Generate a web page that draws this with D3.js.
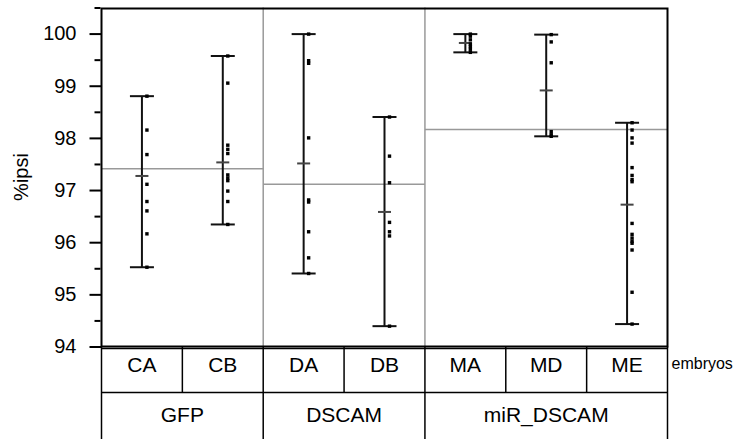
<!DOCTYPE html>
<meta charset="utf-8">
<title>%ipsi per embryo</title>
<style>
body { margin: 0; background: #fff; }
svg { display: block; font-family: "Liberation Sans", Arial, sans-serif; }
.axis path { display: none; }
.axis line { stroke: #000; stroke-width: 2; }
.axis text { font-size: 20px; fill: #000; }
.frame { fill: none; stroke: #000; stroke-width: 2; }
.sep { stroke: #999; stroke-width: 1.5; }
.gmean { stroke: #999; stroke-width: 1.5; }
.bar { stroke: #111; stroke-width: 2; }
.mtick { stroke: #444; stroke-width: 2; }
.tbl { stroke: #000; stroke-width: 1.5; }
</style>
<body>
<script src="https://d3js.org/d3.v7.min.js"></script>
<script>

// data
var groups = ["GFP", "DSCAM", "miR_DSCAM"];
var embryos = ["CA", "CB", "DA", "DB", "MA", "MD", "ME"];
var embryoGroup = ["GFP", "GFP", "DSCAM", "DSCAM", "miR_DSCAM", "miR_DSCAM", "miR_DSCAM"];
var embryoMeans = [97.27, 97.53, 97.51, 96.58, 99.82, 98.91, 96.72];
var groupMeans = [97.41, 97.11, 98.16];
var yTicks = [94, 95, 96, 97, 98, 99, 100];
var yMinor = [94.5, 95.5, 96.5, 97.5, 98.5, 99.5, 100.5];

var ipsiCA = [98.80, 98.15, 97.68, 97.11, 96.78, 96.60, 96.16, 95.52];
var ipsiCB = [99.57, 99.05, 97.86, 97.78, 97.70, 97.29, 97.23, 97.18, 96.98, 96.78, 96.34];
var ipsiDA = [99.99, 99.48, 99.43, 98.00, 96.81, 96.77, 96.20, 95.70, 95.40];
var ipsiDB = [98.40, 97.65, 97.14, 96.38, 96.20, 96.12, 94.39];
var ipsiMA = [99.99, 99.95, 99.88, 99.80, 99.75, 99.70, 99.64];
var ipsiMD = [99.98, 99.84, 99.44, 98.12, 98.06, 98.03];
var ipsiME = [98.29, 98.15, 98.00, 97.90, 97.43, 97.28, 97.20, 97.16, 96.36, 96.15,
              96.08, 96.02, 95.98, 95.85, 95.04, 94.43];
var ipsi = [ipsiCA, ipsiCB, ipsiDA, ipsiDB, ipsiMA, ipsiMD, ipsiME];

var width = 736;
var height = 439;
// (window.top is read-only, so no "top" here)
var pLeft = 101.5, pRight = 667.5, pTop = 7.5, pBottom = 346.5;
var rowMid = 392.5;

var svg = d3.select("body").append("svg")
    .attr("width", width)
    .attr("height", height);

var x = d3.scaleBand()
    .domain(embryos)
    .range([pLeft, pRight]);

var y = d3.scaleLinear()
    .domain([94, 100.5])
    .range([pBottom, pTop]);

function groupStart(g) {
  return x(embryos[embryoGroup.indexOf(g)]);
}
function groupEnd(g) {
  return x(embryos[embryoGroup.lastIndexOf(g)]) + x.bandwidth();
}

// group separators inside plot
svg.selectAll(".sep")
  .data(groups.slice(1))
  .enter().append("line")
    .attr("class", "sep")
    .attr("x1", function(g) { return groupStart(g); })
    .attr("x2", function(g) { return groupStart(g); })
    .attr("y1", pTop)
    .attr("y2", pBottom);

// group mean lines
svg.selectAll(".gmean")
  .data(groups)
  .enter().append("line")
    .attr("class", "gmean")
    .attr("x1", function(g) { return groupStart(g); })
    .attr("x2", function(g) { return groupEnd(g); })
    .attr("y1", function(g, i) { return y(groupMeans[i]); })
    .attr("y2", function(g, i) { return y(groupMeans[i]); });

// one g per embryo
var cols = svg.selectAll(".emb")
  .data(embryos)
  .enter().append("g")
    .attr("class", "emb")
    .attr("transform", function(d) { return "translate(" + (x(d) + x.bandwidth() / 2) + ",0)"; });

cols.append("line")
    .attr("class", "bar")
    .attr("x1", 0).attr("x2", 0)
    .attr("y1", function(d, i) { return y(d3.max(ipsi[i])); })
    .attr("y2", function(d, i) { return y(d3.min(ipsi[i])); });

cols.append("line")
    .attr("class", "bar")
    .attr("x1", -12).attr("x2", 12)
    .attr("y1", function(d, i) { return y(d3.max(ipsi[i])); })
    .attr("y2", function(d, i) { return y(d3.max(ipsi[i])); });

cols.append("line")
    .attr("class", "bar")
    .attr("x1", -12).attr("x2", 12)
    .attr("y1", function(d, i) { return y(d3.min(ipsi[i])); })
    .attr("y2", function(d, i) { return y(d3.min(ipsi[i])); });

cols.append("line")
    .attr("class", "mtick")
    .attr("x1", -6.5).attr("x2", 6.5)
    .attr("y1", function(d, i) { return y(embryoMeans[i]); })
    .attr("y2", function(d, i) { return y(embryoMeans[i]); });

cols.each(function(d, i) {
  d3.select(this).selectAll("rect")
    .data(ipsi[i])
    .enter().append("rect")
      .attr("x", 3.3)
      .attr("y", function(v) { return y(v) - 1.7; })
      .attr("width", 3.4)
      .attr("height", 3.4)
      .attr("fill", "#000");
});

// plot frame
svg.append("rect")
    .attr("class", "frame")
    .attr("x", pLeft)
    .attr("y", pTop + 1)
    .attr("width", pRight - pLeft)
    .attr("height", pBottom - pTop - 1);

// y axis
svg.append("g")
    .attr("class", "axis")
    .attr("transform", "translate(" + pLeft + ",0)")
    .call(d3.axisLeft(y).tickValues(yTicks).tickSize(12).tickPadding(13).tickFormat(d3.format("d")));

svg.append("g")
    .attr("class", "axis")
    .attr("transform", "translate(" + (pLeft - 1) + ",0)")
    .call(d3.axisLeft(y).tickValues(yMinor).tickSize(6).tickFormat(""));

svg.append("text")
    .attr("transform", "translate(28," + ((pTop + pBottom) / 2) + ") rotate(-90)")
    .attr("text-anchor", "middle")
    .style("font-size", "20px")
    .text("%ipsi");

// table under the plot
svg.append("line").attr("class", "tbl")
    .attr("x1", pLeft).attr("x2", pRight).attr("y1", pBottom + 2).attr("y2", pBottom + 2);
svg.append("line").attr("class", "tbl")
    .attr("x1", pLeft).attr("x2", pRight).attr("y1", rowMid).attr("y2", rowMid);
svg.append("line").attr("class", "tbl")
    .attr("x1", pLeft).attr("x2", pLeft).attr("y1", pBottom).attr("y2", height);
svg.append("line").attr("class", "tbl")
    .attr("x1", pRight).attr("x2", pRight).attr("y1", pBottom).attr("y2", height);

svg.selectAll(".csep")
  .data(embryos.slice(1))
  .enter().append("line")
    .attr("class", "tbl")
    .attr("x1", function(d) { return x(d); })
    .attr("x2", function(d) { return x(d); })
    .attr("y1", pBottom)
    .attr("y2", function(d, i) {
      return embryoGroup[i + 1] != embryoGroup[i] ? height : rowMid;
    });

svg.selectAll(".elab")
  .data(embryos)
  .enter().append("text")
    .attr("x", function(d) { return x(d) + x.bandwidth() / 2; })
    .attr("y", 372)
    .attr("text-anchor", "middle")
    .style("font-size", "21px")
    .text(function(d) { return d; });

svg.selectAll(".glab")
  .data(groups)
  .enter().append("text")
    .attr("x", function(g) { return (groupStart(g) + groupEnd(g)) / 2; })
    .attr("y", 422)
    .attr("text-anchor", "middle")
    .style("font-size", "21px")
    .text(function(g) { return g; });

svg.append("text")
    .attr("x", pRight + 4)
    .attr("y", 369)
    .style("font-size", "16px")
    .text("embryos");

</script>
